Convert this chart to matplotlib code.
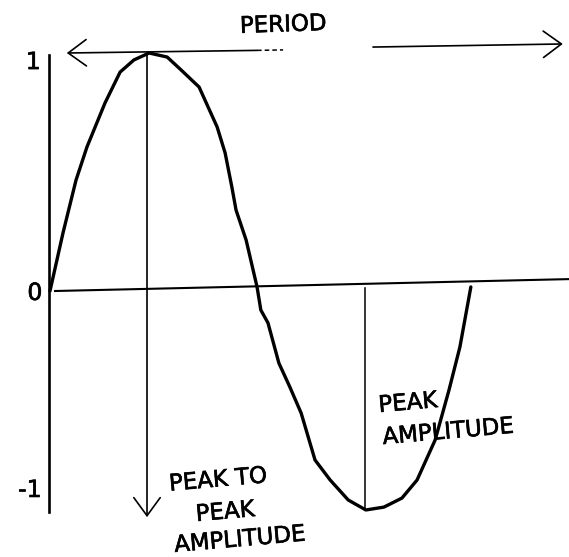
"""
Hand-drawn style sketch of one period of a sine wave, with the
period, peak amplitude and peak-to-peak amplitude marked.
Time is in periods (0..1), amplitude in units of the peak.
"""
import matplotlib.pyplot as plt
import matplotlib.patheffects as pe

# curve: time (periods), amplitude
T = [0.000, 0.031, 0.062, 0.088, 0.131, 0.167, 0.200, 0.236, 0.279, 0.312,
     0.355, 0.398, 0.417, 0.433, 0.443, 0.467, 0.493, 0.502, 0.519, 0.545,
     0.571, 0.598, 0.631, 0.667, 0.710, 0.752, 0.795, 0.838, 0.874, 0.917,
     0.950, 0.976, 1.002]
AMP = [0.000, 0.244, 0.466, 0.605, 0.790, 0.920, 0.971, 1.000, 0.983, 0.929,
       0.857, 0.689, 0.580, 0.437, 0.340, 0.214, 0.017, -0.080, -0.134, -0.303,
       -0.403, -0.513, -0.710, -0.794, -0.878, -0.920, -0.908, -0.870, -0.794, -0.626,
       -0.416, -0.235, 0.017]

# hand-drawn axes and guide lines
XAXIS_T = [0.012, 1.236]
XAXIS_A = [0.0, 0.05]
YAXIS_T = -0.002
YAXIS_A = [0.992, -0.929]
PEAK_T = 0.231          # vertical through the crest, arrow at the bottom
PEAK_A = [1.0, -0.950]
TROUGH_T = 0.750        # vertical from the zero line to the trough
TROUGH_A = [0.013, -0.920]

# period arrow (drawn in two pieces with a gap for the label)
PER_LEFT_T = [0.040, 0.493]
PER_LEFT_A = [1.000, 1.011]
PER_DASH_T = [0.493, 0.555]
PER_DASH_A = [1.011, 1.013]
PER_RIGHT_T = [0.769, 1.221]
PER_RIGHT_A = [1.025, 1.038]

TICK_LABELS = ["1", "0", "-1"]
TICK_POS = [(-0.040, 0.962), (-0.036, -0.008), (-0.048, -0.836)]

INK = "black"
pen = [pe.withStroke(linewidth=0.45, foreground=INK)]

fig = plt.figure(figsize=(5.69, 5.57), dpi=100)
ax = fig.add_axes([0, 0, 1, 1])
ax.set_xlim(-0.119, 1.2357)
ax.set_ylim(-1.1176, 1.2227)
ax.axis("off")

ax.plot(T, AMP, color=INK, lw=2.4, solid_capstyle="round", solid_joinstyle="round")

ax.plot(XAXIS_T, XAXIS_A, color=INK, lw=1.5)
ax.plot([YAXIS_T, YAXIS_T], YAXIS_A, color=INK, lw=1.9)
ax.plot([TROUGH_T, TROUGH_T], TROUGH_A, color=INK, lw=1.1)

arrow = dict(arrowstyle="->,head_length=1.3,head_width=0.95",
             color=INK, lw=1.2, shrinkA=0, shrinkB=0)
ax.annotate("", xy=(PEAK_T, PEAK_A[1]), xytext=(PEAK_T, PEAK_A[0]),
            arrowprops=arrow)
ax.annotate("", xy=(PER_LEFT_T[0], PER_LEFT_A[0]),
            xytext=(PER_LEFT_T[1], PER_LEFT_A[1]), arrowprops=arrow)
ax.plot(PER_DASH_T, PER_DASH_A, color=INK, lw=1.1, ls=(0, (3, 2)))
ax.annotate("", xy=(PER_RIGHT_T[1], PER_RIGHT_A[1]),
            xytext=(PER_RIGHT_T[0], PER_RIGHT_A[0]), arrowprops=arrow)

for lab, (x, y) in zip(TICK_LABELS, TICK_POS):
    ax.text(x, y, lab, ha="center", va="center", fontsize=17, color=INK,
            path_effects=pen)

txt = dict(color=INK, fontsize=16.5, ha="center", va="center", rotation=5,
           path_effects=pen)
ax.text(0.555, 1.118, "PERIOD", **dict(txt, rotation=2))
ax.text(0.852, -0.471, "PEAK", **txt)
ax.text(0.948, -0.592, "AMPLITUDE", **txt)
ax.text(0.400, -0.794, "PEAK TO", **txt)
ax.text(0.417, -0.929, "PEAK", **txt)
ax.text(0.452, -1.045, "AMPLITUDE", **txt)

fig.savefig("out.png", dpi=100)
